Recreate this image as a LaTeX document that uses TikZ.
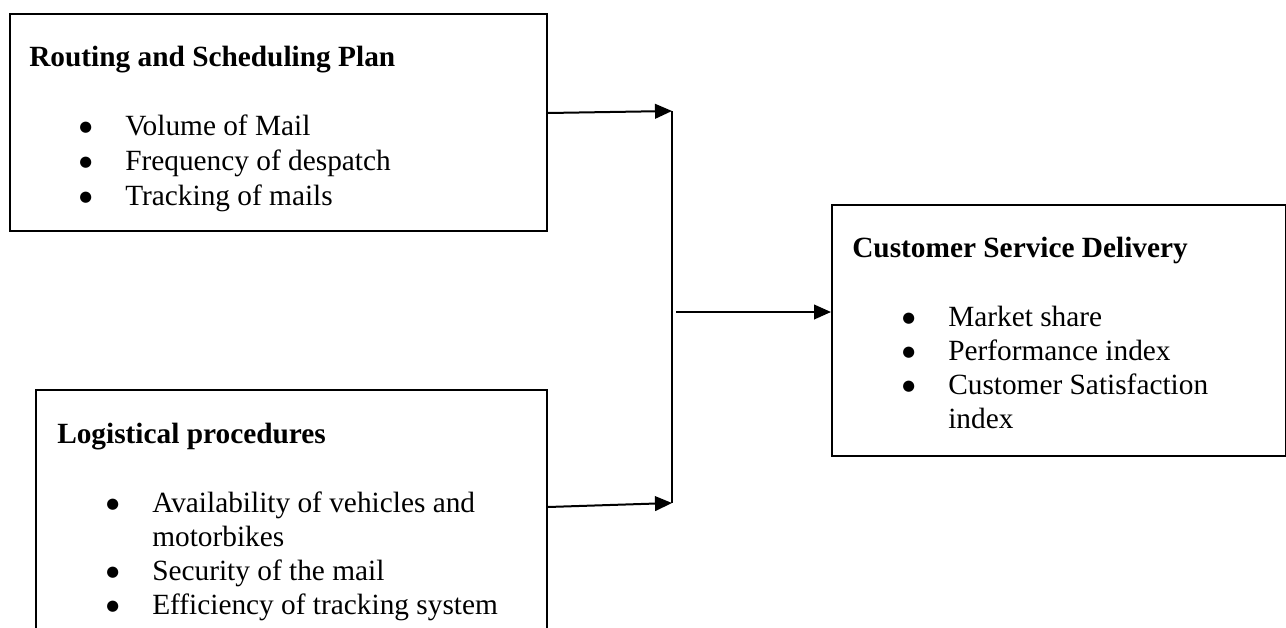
\documentclass[tikz,border=0pt]{standalone}
\usepackage{fontspec}
\setmainfont{Liberation Serif}
\newfontfamily\dotfont{DejaVu Sans}
\usetikzlibrary{positioning,arrows.meta}
\tikzset{
  box/.style={draw, line width=1.5pt, inner sep=0pt, anchor=north west},
  head/.style={anchor=base west, inner sep=0pt, font=\fontsize{22}{26}\selectfont\bfseries},
  item/.style={anchor=base west, inner sep=0pt, text height=0.72em, text depth=0.2em,
    font=\fontsize{22}{26}\selectfont},
  link/.style={line width=1.5pt, -{Triangle[length=12.75pt,width=11pt]}}
}
\newcommand{\bul}{\makebox[34.5pt][l]{\raisebox{2.5pt}{\dotfont\fontsize{11}{11}\selectfont ●}}}
\newcommand{\ind}{\hspace*{34.5pt}}
\begin{document}
\begin{tikzpicture}[x=0.75pt, y=-0.75pt]
  \useasboundingbox (0,0) rectangle (1286,628);
  \clip (0,0) rectangle (1286,628);
  % the three boxes
  \node[box, minimum width=402.75pt, minimum height=162.75pt] (routing) at (9,13) {};
  \node[box, minimum width=383.25pt, minimum height=195pt] (logistics) at (35,389) {};
  \node[box, minimum width=340.5pt, minimum height=188.25pt] (service) at (831,204) {};
  % routing and scheduling
  \node[head] (routingT) at ([shift={(20,53)}]routing.north west) {Routing and Scheduling Plan};
  \node[item] (routingA) at ([shift={(70,122)}]routing.north west) {\bul Volume of Mail};
  \node[item] (routingB) at ([shift={(70,157)}]routing.north west) {\bul Frequency of despatch};
  \node[item] (routingC) at ([shift={(70,192)}]routing.north west) {\bul Tracking of mails};
  % logistical procedures
  \node[head] (logisticsT) at ([shift={(22,54)}]logistics.north west) {Logistical procedures};
  \node[item] (logisticsA) at ([shift={(71,123)}]logistics.north west) {\bul Availability of vehicles and};
  \node[item] (logisticsA2) at ([shift={(71,157)}]logistics.north west) {\ind motorbikes};
  \node[item] (logisticsB) at ([shift={(71,191)}]logistics.north west) {\bul Security of the mail};
  \node[item] (logisticsC) at ([shift={(71,225)}]logistics.north west) {\bul Efficiency of tracking system};
  % customer service
  \node[head] (serviceT) at ([shift={(21,53)}]service.north west) {Customer Service Delivery};
  \node[item] (serviceA) at ([shift={(71,122)}]service.north west) {\bul Market share};
  \node[item] (serviceB) at ([shift={(71,156)}]service.north west) {\bul Performance index};
  \node[item] (serviceC) at ([shift={(71,190)}]service.north west) {\bul Customer Satisfaction};
  \node[item] (serviceC2) at ([shift={(71,224)}]service.north west) {\ind index};
  % joining lines
  \coordinate (topJ) at (672,111);
  \coordinate (botJ) at (672,503);
  \coordinate (midJ) at (676,312);
  \draw[link] (routing.east |- 0,113) -- (topJ);
  \draw[link] (logistics.east |- 0,507) -- (botJ);
  \draw[line width=1.5pt] (topJ) -- (botJ);
  \draw[link] (midJ) -- (midJ -| service.west);
\end{tikzpicture}
\end{document}
